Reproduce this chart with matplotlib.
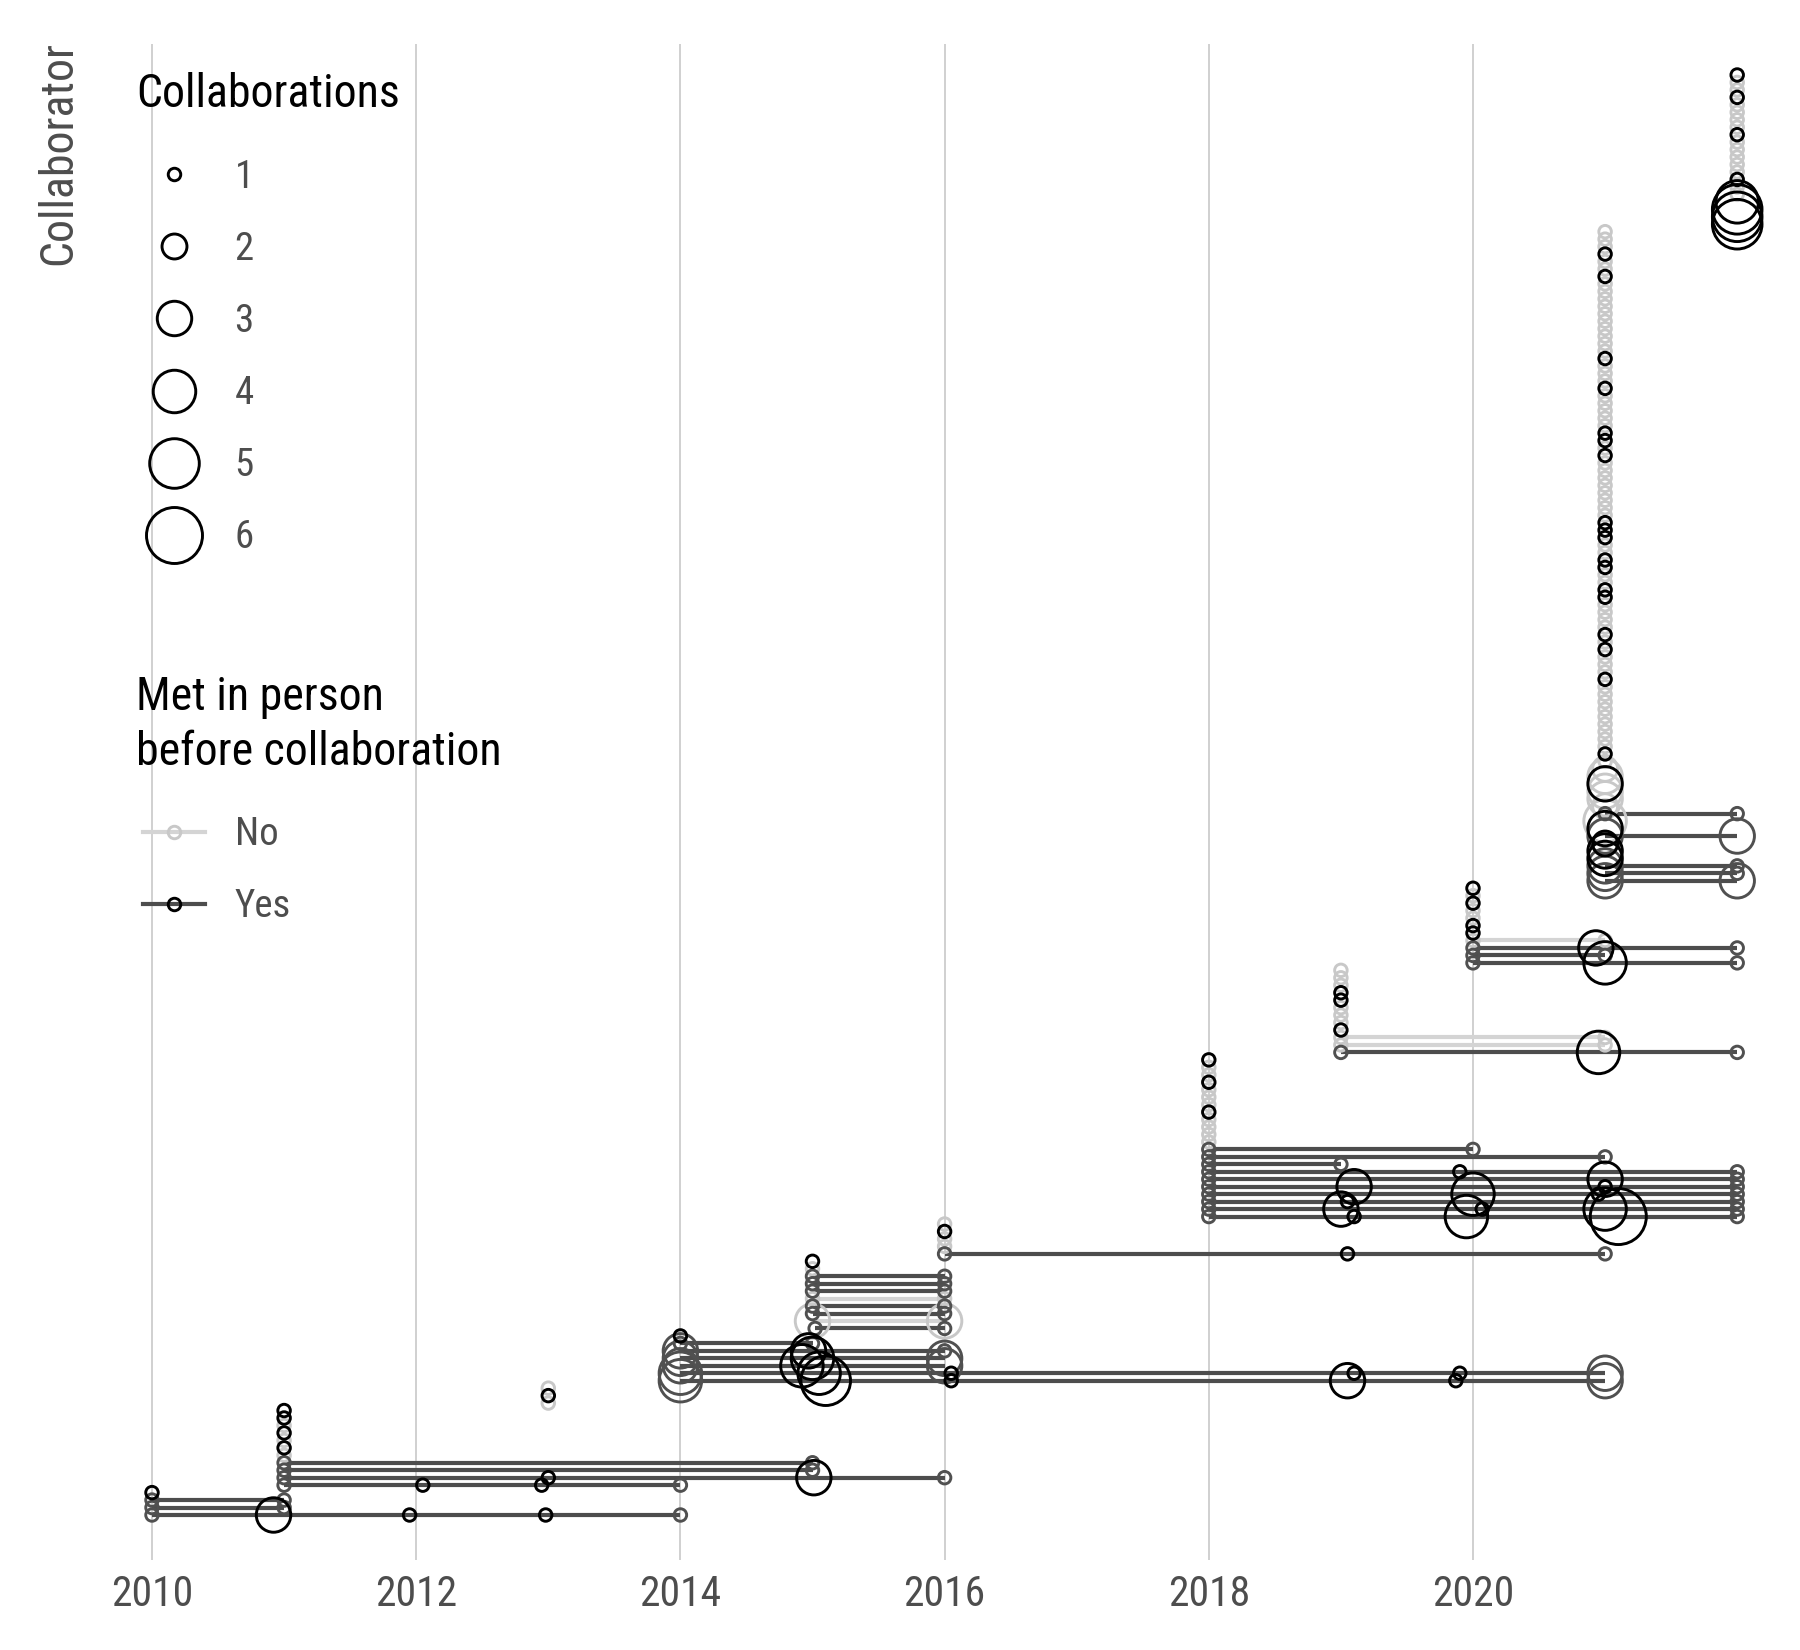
import numpy as np
import matplotlib
matplotlib.use("Agg")
import matplotlib.pyplot as plt
from matplotlib.lines import Line2D
from matplotlib.legend_handler import HandlerLine2D
import matplotlib.font_manager as fm
from matplotlib.font_manager import FontProperties

# ---------------- data ----------------
# Each collaborator row, listed bottom to top: met-in-person flag and (year, collaborations) pairs
g2010 = [
    ("Yes", [(2010, 1), (2010.92, 3), (2011.95, 1), (2012.98, 1), (2014, 1)]),
    ("Yes", [(2010, 1), (2011, 1)]),
    ("Yes", [(2010, 1), (2011, 1)]),
    ("Yes", [(2010, 1)]),
]
g2011 = [
    ("Yes", [(2011, 1), (2012.05, 1), (2012.95, 1), (2014, 1)]),
    ("Yes", [(2011, 1), (2013, 1), (2015.01, 3), (2016, 1)]),
    ("Yes", [(2011, 1), (2015, 1)]),
    ("Yes", [(2011, 1), (2015, 1)]),
]
g2011_single_flags = "NYNYNYY"
g2013_single_flags = "NYN"
g2014 = [
    ("Yes", [(2014, 4), (2015.1, 5), (2016.05, 1), (2019.05, 3), (2019.87, 1), (2021, 3)]),
    ("Yes", [(2014, 4), (2015.05, 4), (2016.05, 1), (2019.1, 1), (2019.9, 1), (2021, 3)]),
    ("Yes", [(2014, 3), (2014.92, 4), (2016, 3)]),
    ("Yes", [(2014, 3), (2015, 4), (2016, 3)]),
    ("Yes", [(2014, 3), (2014.97, 3), (2016, 1)]),
    ("Yes", [(2014, 1), (2015, 1)]),
    ("Yes", [(2014, 1)]),
]
g2015 = [
    ("Yes", [(2015.02, 1), (2016, 1)]),
    ("No", [(2015, 3), (2016, 3)]),
    ("Yes", [(2015, 1), (2016, 1)]),
    ("Yes", [(2015, 1), (2016, 1)]),
    ("No", [(2015, 1), (2016, 1)]),
    ("Yes", [(2015, 1), (2016, 1)]),
    ("Yes", [(2015, 1), (2016, 1)]),
    ("Yes", [(2015, 1), (2016, 1)]),
]
g2015_single_flags = "NY"
g2016 = [
    ("Yes", [(2016, 1), (2019.05, 1), (2021, 1)]),
]
g2016_single_flags = "NNYN"
g2018 = [
    ("Yes", [(2018, 1), (2019.1, 1), (2019.95, 4), (2021.1, 6), (2022, 1)]),
    ("Yes", [(2018, 1), (2019, 3), (2020.07, 1), (2021, 4), (2022, 1)]),
    ("Yes", [(2018, 1), (2019.05, 1), (2022, 1)]),
    ("Yes", [(2018, 1), (2020, 4), (2020.95, 1), (2022, 1)]),
    ("Yes", [(2018, 1), (2019.1, 3), (2021, 1), (2022, 1)]),
    ("Yes", [(2018, 1), (2021, 3), (2022, 1)]),
    ("Yes", [(2018, 1), (2019.9, 1), (2022, 1)]),
    ("Yes", [(2018, 1), (2019, 1)]),
    ("Yes", [(2018, 1), (2021, 1)]),
    ("Yes", [(2018, 1), (2020, 1)]),
]
g2018_single_flags = "NNNNYNNNYNNY"
g2019 = [
    ("Yes", [(2019, 1), (2020.95, 4), (2022, 1)]),
    ("No", [(2019, 1), (2021, 1)]),
    ("No", [(2019, 1), (2021, 1)]),
]
g2019_single_flags = "YNNNYYNNN"
g2020 = [
    ("Yes", [(2020, 1), (2021, 4), (2022, 1)]),
    ("Yes", [(2020, 1), (2021, 1)]),
    ("Yes", [(2020, 1), (2020.93, 3), (2022, 1)]),
    ("No", [(2020, 1), (2021, 1)]),
]
g2020_single_flags = "YYNNYNY"
g2021 = [
    ("Yes", [(2021, 3), (2022, 3)]),
    ("Yes", [(2021, 3), (2022, 1)]),
    ("Yes", [(2021, 3), (2022, 1)]),
    ("Yes", [(2021, 3)]),
    ("Yes", [(2021, 3)]),
    ("Yes", [(2021, 2)]),
    ("Yes", [(2021, 3), (2022, 3)]),
    ("Yes", [(2021, 3)]),
    ("No", [(2021, 4)]),
    ("Yes", [(2021, 1), (2022, 1)]),
    ("No", [(2021, 2)]),
    ("No", [(2021, 3)]),
    ("No", [(2021, 3)]),
    ("Yes", [(2021, 3)]),
    ("No", [(2021, 3)]),
    ("No", [(2021, 2)]),
]
# single-collaboration rows of 2021, listed top to bottom
g2021_single_flags_top_down = ("NNNYNNYNNN" "NNNNNNNYNN" "NYNNNNNYYN" "YNNNNNNNNY"
                               "YYNNYYNNYY" "NNNNYNYNNN" "YNNNNNNNNN" "YN")
g2022 = [
    ("Yes", [(2022, 5)]),
    ("Yes", [(2022, 5)]),
    ("Yes", [(2022, 5)]),
    ("Yes", [(2022, 4)]),
]
# single-collaboration rows of 2022, listed top to bottom
g2022_single_flags_top_down = "YNNYNNNNYNNNNNYNN"

legend_sizes = [1, 2, 3, 4, 5, 6]
met_levels = ["No", "Yes"]
x_ticks = [2010, 2012, 2014, 2016, 2018, 2020]


def singles(year, flags):
    return [("Yes" if f == "Y" else "No", [(year, 1)]) for f in flags]


rows = (g2010 + g2011 + singles(2011, g2011_single_flags)
        + singles(2013, g2013_single_flags)
        + g2014 + g2015 + singles(2015, g2015_single_flags)
        + g2016 + singles(2016, g2016_single_flags)
        + g2018 + singles(2018, g2018_single_flags)
        + g2019 + singles(2019, g2019_single_flags)
        + g2020 + singles(2020, g2020_single_flags)
        + g2021 + singles(2021, g2021_single_flags_top_down[::-1])
        + g2022 + singles(2022, g2022_single_flags_top_down[::-1]))

# ---------------- style ----------------
avail = {f.name for f in fm.fontManager.ttflist}
FAMILY = None
for cand in ["Liberation Sans Narrow", "Arial Narrow", "Roboto Condensed", "Open Sans Condensed"]:
    if cand in avail:
        FAMILY = cand
        break
SCALE = 1.0
if FAMILY is None:
    FAMILY = "Liberation Sans" if "Liberation Sans" in avail else "DejaVu Sans"
    SCALE = 0.85


def fp(size):
    return FontProperties(family=[FAMILY, "DejaVu Sans"], size=size * SCALE)


LINE_COL = {"Yes": "#4d4d4d", "No": "#d4d4d4"}
PT_COL = {"Yes": "#000000", "No": "#c8c8c8"}
END_COL = {"Yes": "#505050", "No": "#c8c8c8"}
TXT_GREY = "#4d4d4d"
PX2PT = 0.72
LINE_W = 3.0
EDGE_W = 2.1


def diam_pt(c):
    d_px = 12.5 + (56.0 - 12.5) * (np.sqrt(c) - 1) / (np.sqrt(6) - 1)
    return d_px * PX2PT


W, H = 1800, 1650
fig = plt.figure(figsize=(W / 100, H / 100), dpi=100)
ax_left, ax_right, ax_top, ax_bot = 120, 1770, 44, 1560
ax = fig.add_axes([ax_left / W, (H - ax_bot) / H, (ax_right - ax_left) / W, (ax_bot - ax_top) / H])

px_per_year = 132.1
x0 = 2010 - (152 - ax_left) / px_per_year
ax.set_xlim(x0, x0 + (ax_right - ax_left) / px_per_year)
n = len(rows)
bottom_row_px, top_row_px = 1515, 75
row_px = (bottom_row_px - top_row_px) / (n - 1)
ax.set_ylim(-(ax_bot - bottom_row_px) / row_px, (n - 1) + (top_row_px - ax_top) / row_px)

for v in x_ticks:
    ax.axvline(v, color="#d0d0d0", lw=1.4, zorder=0)

pts = {k: [] for k in ["No", "YesEnd", "Yes"]}
for i, (met, obs) in enumerate(rows):
    xs = [o[0] for o in obs]
    if len(obs) > 1:
        ax.plot([min(xs), max(xs)], [i, i], color=LINE_COL[met], lw=LINE_W,
                solid_capstyle="butt", zorder=2 if met == "No" else 3)
    for (x, c) in obs:
        if met == "No":
            pts["No"].append((x, i, c))
        elif len(obs) > 1 and (x == min(xs) or x == max(xs)):
            pts["YesEnd"].append((x, i, c))
        else:
            pts["Yes"].append((x, i, c))

for key, col, z in [("No", PT_COL["No"], 4), ("YesEnd", END_COL["Yes"], 5), ("Yes", PT_COL["Yes"], 6)]:
    if pts[key]:
        a = np.array(pts[key])
        ax.scatter(a[:, 0], a[:, 1], s=[diam_pt(c) ** 2 for c in a[:, 2]],
                   facecolors="none", edgecolors=col, linewidths=EDGE_W, zorder=z)

ax.set_xticks(x_ticks)
ax.set_xticklabels([str(t) for t in x_ticks])
for lab in ax.get_xticklabels():
    lab.set_fontproperties(fp(30))
    lab.set_color(TXT_GREY)
ax.tick_params(axis="x", length=0, pad=10)
ax.set_yticks([])
for s in ax.spines.values():
    s.set_visible(False)

fig.text(80.5 / W, 1 - 41 / H, "Collaborator", rotation=90, ha="right", va="top",
         fontproperties=fp(33), color=TXT_GREY)

LEG_FS = 28
leg_kw = dict(frameon=False, prop=fp(LEG_FS), title_fontproperties=fp(33), labelspacing=0.903,
              handlelength=1.76, handletextpad=0.76, borderpad=0, borderaxespad=0,
              alignment="left", loc="upper left", bbox_transform=fig.transFigure,
              handler_map={Line2D: HandlerLine2D(xpad=0.167, numpoints=1)})
TITLE_SEP = 30.8

# size legend
h1 = [Line2D([], [], ls="none", marker="o", ms=diam_pt(c), mfc="none", mec="black", mew=EDGE_W)
      for c in legend_sizes]
leg1 = ax.legend(h1, [str(c) for c in legend_sizes], title="Collaborations",
                 bbox_to_anchor=(136.5 / W, 1 - 72 / H), **leg_kw)
leg1._legend_box.sep = TITLE_SEP
for t in leg1.get_texts():
    t.set_color(TXT_GREY)
ax.add_artist(leg1)

# met-in-person legend
h2 = [Line2D([0, 1], [0, 0], color=LINE_COL[k], lw=LINE_W, marker="o", ms=diam_pt(1),
             mfc="none", mec=PT_COL[k], mew=EDGE_W) for k in met_levels]
leg2 = ax.legend(h2, met_levels, title="Met in person\nbefore collaboration",
                 bbox_to_anchor=(136.5 / W, 1 - 675 / H), **leg_kw)
leg2._legend_box.sep = TITLE_SEP
leg2.get_title().set_linespacing(1.3)
for t in leg2.get_texts():
    t.set_color(TXT_GREY)

fig.savefig("out.png", dpi=100, facecolor="white")
